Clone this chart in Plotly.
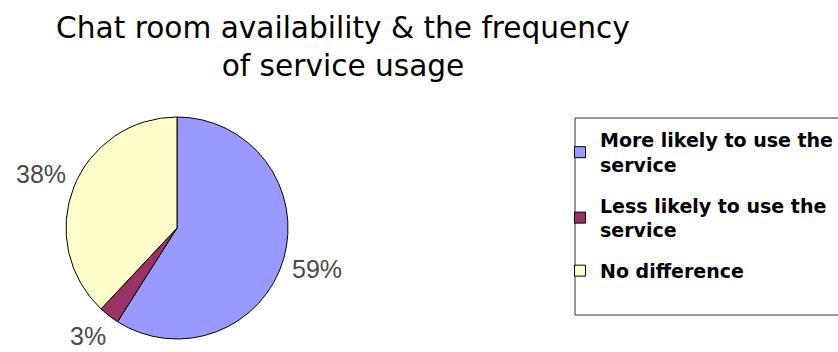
import math
import plotly.graph_objects as go

W, H = 838, 352

title_text = "Chat room availability & the frequency<br>of service usage"
labels = ["More likely to use the<br>service", "Less likely to use the<br>service", "No difference"]
values = [59, 3, 38]
colors = ["#9999FF", "#993366", "#FFFFCC"]

# pie geometry in pixels
PIE_CX, PIE_CY, PIE_R = 177, 228, 111
LABEL_R = 146
LABEL_FS = 25

fig = go.Figure()
fig.add_trace(go.Pie(
    labels=labels,
    values=values,
    sort=False,
    direction="clockwise",
    rotation=0,
    marker=dict(colors=colors, line=dict(color="#000000", width=1)),
    textinfo="none",
    domain=dict(x=[(PIE_CX - PIE_R) / W, (PIE_CX + PIE_R) / W],
                y=[1 - (PIE_CY + PIE_R) / H, 1 - (PIE_CY - PIE_R) / H]),
    hoverinfo="label+percent",
    showlegend=False,
))

# percentage labels placed outside each slice at its mid-angle (computed from the values)
total = sum(values)
cum = 0
for v in values:
    mid = (cum + v / 2) / total * 2 * math.pi  # clockwise from 12 o'clock
    cum += v
    px = PIE_CX + LABEL_R * math.sin(mid)
    py = PIE_CY - LABEL_R * math.cos(mid)
    py = min(py, H - 16)  # keep the label inside the canvas
    fig.add_annotation(
        x=px / W, y=1 - py / H, xref="paper", yref="paper",
        text=f"{round(v / total * 100)}%", showarrow=False,
        xanchor="center", yanchor="middle",
        font=dict(family="Liberation Sans, Arial", size=LABEL_FS, color="#4a4a4a"),
    )

# legend entries (one per slice, same labels and colours as the pie)
for i, (lab, col) in enumerate(zip(labels, colors)):
    fig.add_trace(go.Scatter(
        x=[None], y=[None], mode="markers", name=lab,
        marker=dict(symbol="square", size=11, color=col, line=dict(color="#000000", width=1)),
        legendgroup=f"g{i}", showlegend=True, hoverinfo="skip",
    ))

fig.add_shape(
    type="rect", xref="paper", yref="paper",
    x0=575 / W, x1=860 / W, y0=1 - 315 / H, y1=1 - 118 / H,
    line=dict(color="#333333", width=1), fillcolor="rgba(0,0,0,0)", layer="below",
)

fig.update_layout(
    autosize=True,
    margin=dict(l=0, r=0, t=0, b=0, autoexpand=False),
    paper_bgcolor="#FFFFFF",
    plot_bgcolor="#FFFFFF",
    xaxis=dict(visible=False),
    yaxis=dict(visible=False),
    title=dict(
        text=title_text,
        x=343 / W, xanchor="center",
        y=1 - 38 / H, yanchor="top",
        font=dict(family="DejaVu Sans", size=29.6, color="#000000"),
    ),
    showlegend=True,
    legend=dict(
        x=560 / W, xanchor="left",
        y=1 - 121 / H, yanchor="top",
        bgcolor="rgba(0,0,0,0)",
        borderwidth=0,
        font=dict(family="DejaVu Sans", size=19, color="#000000", weight="bold"),
        traceorder="grouped",
        tracegroupgap=13,
    ),
)

fig.write_html("out.html", config={"responsive": True})
